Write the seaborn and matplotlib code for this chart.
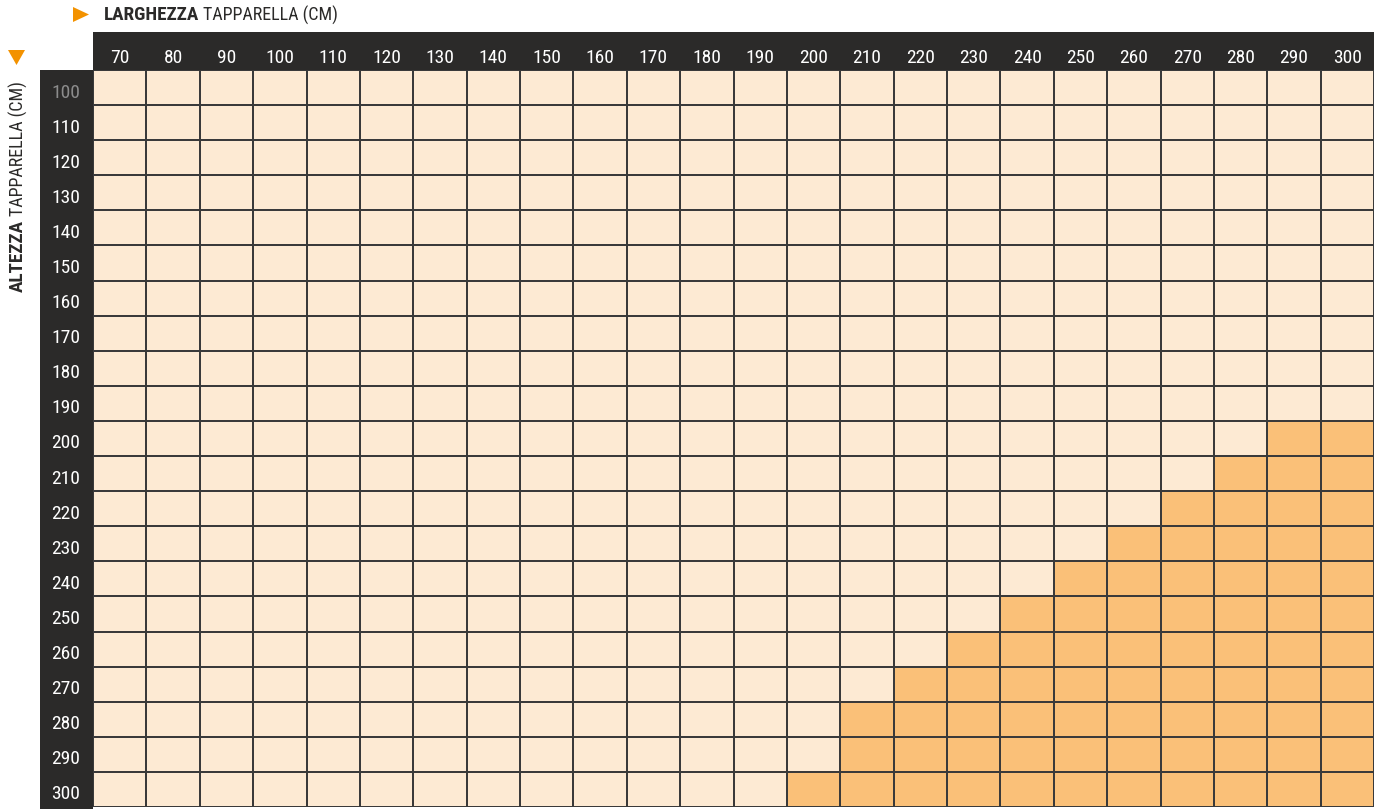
import numpy as np
import pandas as pd
import matplotlib
matplotlib.use("Agg")
import matplotlib.pyplot as plt
from matplotlib.colors import ListedColormap
from matplotlib.patches import Rectangle, Polygon
from matplotlib.transforms import ScaledTranslation
import seaborn as sns

# ---- data ----
widths = [70, 80, 90, 100, 110, 120, 130, 140, 150, 160, 170, 180,
          190, 200, 210, 220, 230, 240, 250, 260, 270, 280, 290, 300]
heights = [100, 110, 120, 130, 140, 150, 160, 170, 180, 190, 200,
           210, 220, 230, 240, 250, 260, 270, 280, 290, 300]
# first width (cm) from which the cell is highlighted, per height (None = none)
highlight_from = [None, None, None, None, None, None, None, None, None, None,
                  290, 280, 270, 260, 250, 240, 230, 220, 210, 210, 200]

matrix = pd.DataFrame(
    [[1 if (s is not None and w >= s) else 0 for w in widths] for s in highlight_from],
    index=heights, columns=widths)

LIGHT = "#FDEAD3"
DARK = "#FAC078"
BAR = "#2B2A29"
ORANGE = "#F39200"

sns.set_theme(style="white")
FAMS = ['Roboto Condensed', 'PT Sans Narrow', 'Asap Condensed', 'DejaVu Sans']
plt.rcParams['font.family'] = FAMS

W, H = 1382, 809
fig = plt.figure(figsize=(W / 100, H / 100), dpi=100)

def fx(x):
    return x / W

def fy(y):
    return 1 - y / H

left, right, top, bottom = 93, 1374, 70, 807
ax = fig.add_axes([fx(left), fy(bottom), fx(right - left), (bottom - top) / H])

sns.heatmap(matrix, ax=ax, cmap=ListedColormap([LIGHT, DARK]), vmin=0, vmax=1,
            cbar=False, linewidths=1.1, linecolor="#3a3a3a", square=False)

ax.xaxis.tick_top()
ax.set_xticks(np.arange(len(widths)) + 0.5)
ax.set_xticklabels([str(w) for w in widths], rotation=0, color="white", fontsize=14)
ax.set_yticks(np.arange(len(heights)) + 0.5)
ax.set_yticklabels([str(h) for h in heights], rotation=0, color="white", fontsize=14,
                   ha="center")
ax.get_yticklabels()[0].set_color("#8C8C8C")
ax.tick_params(axis="x", length=0, pad=2.5)
ax.tick_params(axis="y", length=0, pad=19.5)
off = ScaledTranslation(0, -5 / 100, fig.dpi_scale_trans)
for lab in ax.get_yticklabels():
    lab.set_transform(lab.get_transform() + off)
ax.set_xlabel("")
ax.set_ylabel("")
for sp in ax.spines.values():
    sp.set_visible(False)

# dark header bars
fig.add_artist(Rectangle((fx(left), fy(top)), fx(right - left), (top - 32) / H,
                         transform=fig.transFigure, facecolor=BAR, edgecolor="none", zorder=-1))
fig.add_artist(Rectangle((fx(40), fy(H)), fx(left - 40), (H - top) / H,
                         transform=fig.transFigure, facecolor=BAR, edgecolor="none", zorder=-1))

# orange triangles
fig.add_artist(Polygon([(fx(73), fy(7)), (fx(73), fy(22)), (fx(89), fy(14.5))], closed=True,
                       transform=fig.transFigure, facecolor=ORANGE, edgecolor="none"))
fig.add_artist(Polygon([(fx(8), fy(50)), (fx(25), fy(50)), (fx(16.5), fy(65))], closed=True,
                       transform=fig.transFigure, facecolor=ORANGE, edgecolor="none"))

# titles
t1 = fig.text(fx(104), fy(15), "LARGHEZZA", fontsize=13.8, fontweight="bold",
              color="#2B2A29", va="center", ha="left")
fig.canvas.draw()
r = fig.canvas.get_renderer()
bb = t1.get_window_extent(r)
fig.text(bb.x1 / W + fx(4), fy(15), "TAPPARELLA (CM)", fontsize=13,
         color="#2B2A29", va="center", ha="left")

t2 = fig.text(fx(18), fy(292), "ALTEZZA", fontsize=13.8, fontweight="bold",
              color="#2B2A29", va="bottom", ha="center", rotation=90)
fig.canvas.draw()
bb2 = t2.get_window_extent(r)
fig.text(fx(18), bb2.y1 / H + 4 / H, "TAPPARELLA (CM)", fontsize=13,
         color="#2B2A29", va="bottom", ha="center", rotation=90)

fig.savefig("out.png", dpi=100, facecolor="white")
